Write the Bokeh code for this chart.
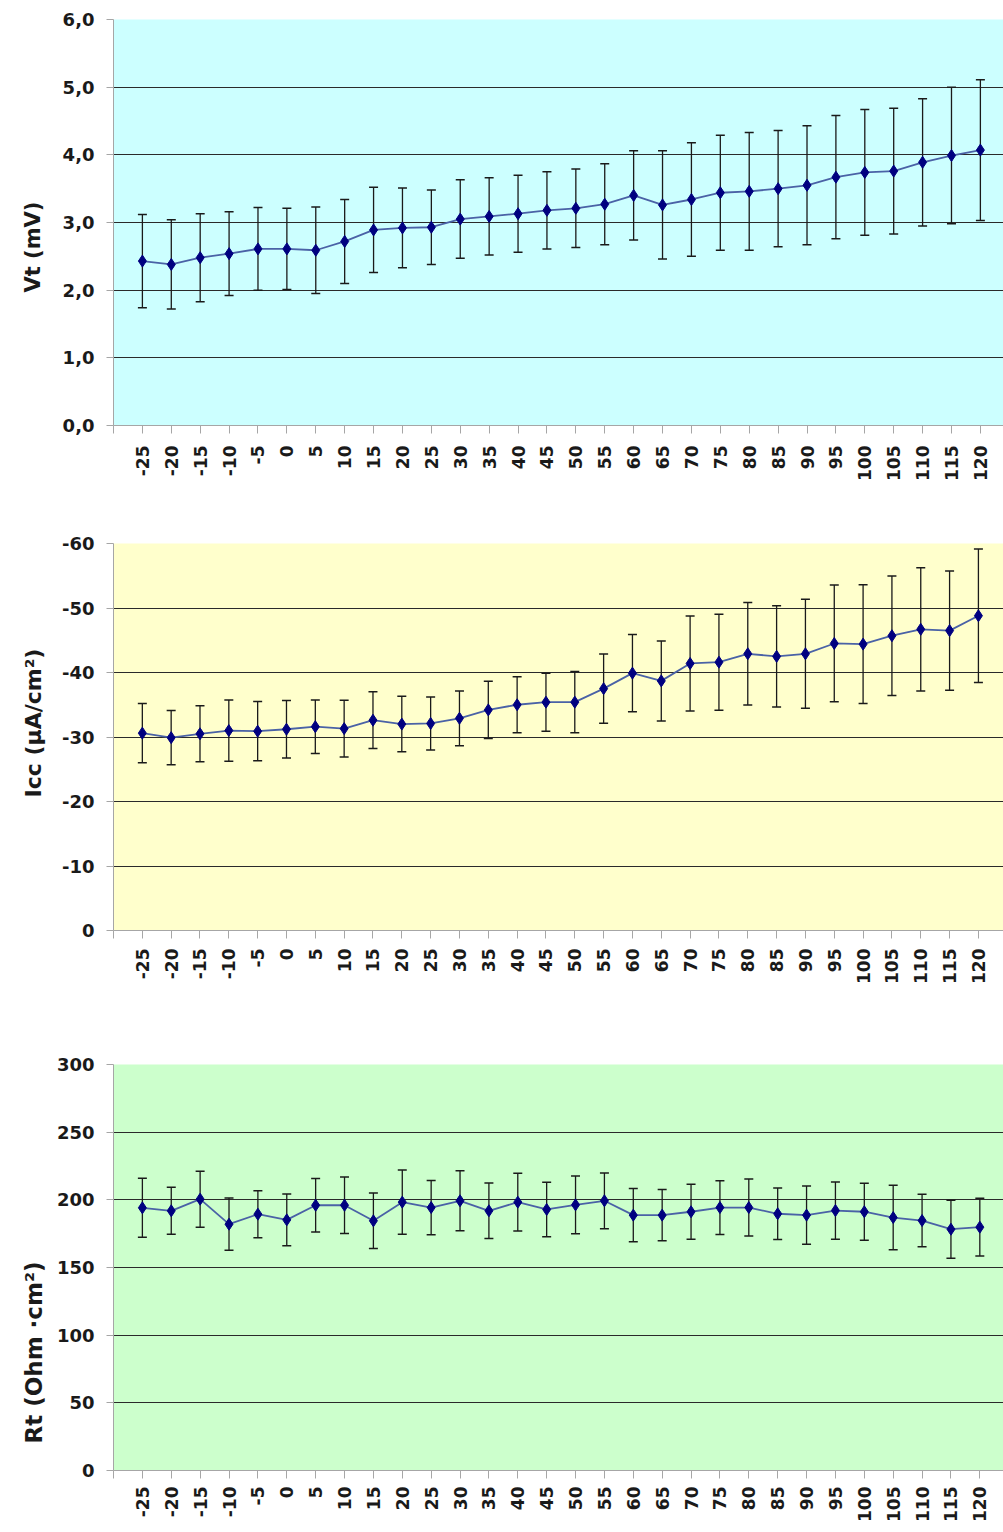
import math
from bokeh.plotting import figure
from bokeh.layouts import column
from bokeh.models import Range1d, FixedTicker, Title
from bokeh.embed import file_html
from bokeh.resources import INLINE

# ---------------- data ----------------
temps = [-25, -20, -15, -10, -5, 0, 5, 10, 15, 20, 25, 30, 35, 40, 45,
         50, 55, 60, 65, 70, 75, 80, 85, 90, 95, 100, 105, 110, 115, 120]

vt_mean = [2.43, 2.38, 2.48, 2.54, 2.61, 2.61, 2.59, 2.72, 2.89, 2.92, 2.93, 3.05, 3.09, 3.13, 3.18,
           3.21, 3.27, 3.40, 3.26, 3.34, 3.44, 3.46, 3.50, 3.55, 3.67, 3.74, 3.76, 3.89, 3.99, 4.07]
vt_err = [0.69, 0.66, 0.65, 0.62, 0.61, 0.60, 0.64, 0.62, 0.63, 0.59, 0.55, 0.58, 0.57, 0.57, 0.57,
          0.58, 0.60, 0.66, 0.80, 0.84, 0.85, 0.87, 0.86, 0.88, 0.91, 0.93, 0.93, 0.94, 1.01, 1.04]

icc_mean = [-30.6, -29.9, -30.5, -31.0, -30.9, -31.2, -31.6, -31.3, -32.6, -32.0, -32.1, -32.9, -34.2, -35.0, -35.4,
            -35.4, -37.5, -39.9, -38.7, -41.4, -41.6, -42.9, -42.5, -42.9, -44.5, -44.4, -45.7, -46.7, -46.5, -48.8]
icc_err = [4.6, 4.2, 4.35, 4.75, 4.6, 4.45, 4.15, 4.4, 4.4, 4.3, 4.1, 4.25, 4.45, 4.35, 4.5,
           4.75, 5.35, 6.0, 6.2, 7.35, 7.45, 7.95, 7.85, 8.45, 9.05, 9.2, 9.25, 9.55, 9.25, 10.35]

rt_mean = [194.1, 191.9, 200.5, 182.0, 189.4, 185.2, 196.0, 196.0, 184.5, 198.3, 194.3, 199.3, 191.9, 198.3, 192.9,
           196.3, 199.3, 188.7, 188.7, 191.2, 194.3, 194.3, 189.7, 188.7, 192.1, 191.2, 186.9, 184.7, 178.3, 179.8]
rt_err = [21.8, 17.35, 20.7, 19.3, 17.35, 19.1, 19.7, 20.95, 20.55, 23.75, 20.05, 22.2, 20.45, 21.35, 20.1,
          21.4, 20.6, 19.75, 18.95, 20.3, 19.85, 21.05, 19.0, 21.55, 21.15, 21.05, 23.85, 19.4, 21.4, 21.35]

vt_ticks = [0, 1, 2, 3, 4, 5, 6]
vt_tick_labels = ["0,0", "1,0", "2,0", "3,0", "4,0", "5,0", "6,0"]
icc_ticks = [0, -10, -20, -30, -40, -50, -60]
icc_tick_labels = ["0", "-10", "-20", "-30", "-40", "-50", "-60"]
rt_ticks = [0, 50, 100, 150, 200, 250, 300]
rt_tick_labels = ["0", "50", "100", "150", "200", "250", "300"]

TICK_FONT = "DejaVu Sans"
AXIS_GRAY = "#A6A6A6"


def make_panel(mean, err, y_start, y_end, yticks, ylabels, ytitle, bg,
               height, b_top, b_bottom, b_left, x_end, title_size, title_offset, title_standoff, x_standoff):
    idx = list(range(len(temps)))
    p = figure(width=1003, height=height,
               x_range=Range1d(-1, x_end), y_range=Range1d(y_start, y_end),
               output_backend="svg", toolbar_location=None,
               min_border_left=b_left, min_border_right=0,
               min_border_top=b_top, min_border_bottom=b_bottom)
    p.background_fill_color = bg
    p.border_fill_color = "white"
    p.outline_line_color = None

    p.xgrid.visible = False
    p.ygrid.ticker = FixedTicker(ticks=[t for t in yticks if t != 0])
    p.ygrid.grid_line_color = "#2a2a2a"
    p.ygrid.grid_line_width = 1.2

    # y axis
    p.yaxis.ticker = FixedTicker(ticks=yticks)
    p.yaxis.major_label_overrides = {t: l for t, l in zip(yticks, ylabels)}
    p.yaxis.axis_line_color = AXIS_GRAY
    p.yaxis.major_tick_line_color = AXIS_GRAY
    p.yaxis.major_tick_out = 7
    p.yaxis.major_tick_in = 0
    p.yaxis.minor_tick_line_color = None
    p.yaxis.major_label_text_font = TICK_FONT
    p.yaxis.major_label_text_font_style = "bold"
    p.yaxis.major_label_text_font_size = "18px"
    p.yaxis.major_label_text_color = "#1a1a1a"
    p.yaxis.major_label_standoff = 12

    # y axis title as a side title (allows an offset along the axis)
    p.add_layout(Title(text=ytitle, align="left", offset=title_offset, standoff=title_standoff,
                       text_font=TICK_FONT, text_font_style="bold",
                       text_font_size=title_size, text_color="#1a1a1a"), "left")

    # x axis
    xt = list(range(-1, len(temps)))
    overrides = {-1: ""}
    for i, t in enumerate(temps):
        overrides[i] = str(t)
    p.xaxis.ticker = FixedTicker(ticks=xt)
    p.xaxis.major_label_overrides = overrides
    p.xaxis.major_label_orientation = math.pi / 2
    p.xaxis.axis_line_color = AXIS_GRAY
    p.xaxis.major_tick_line_color = AXIS_GRAY
    p.xaxis.major_tick_out = 8
    p.xaxis.major_tick_in = 0
    p.xaxis.minor_tick_line_color = None
    p.xaxis.major_label_text_font = TICK_FONT
    p.xaxis.major_label_text_font_style = "bold"
    p.xaxis.major_label_text_font_size = "17px"
    p.xaxis.major_label_text_color = "#1a1a1a"
    p.xaxis.major_label_standoff = x_standoff

    upper = [m + e for m, e in zip(mean, err)]
    lower = [m - e for m, e in zip(mean, err)]
    p.segment(x0=idx, y0=lower, x1=idx, y1=upper, line_color="#1a1a1a", line_width=1.3)
    p.scatter(x=idx, y=upper, marker="dash", size=9, line_color="#1a1a1a", line_width=1.5)
    p.scatter(x=idx, y=lower, marker="dash", size=9, line_color="#1a1a1a", line_width=1.5)
    p.line(x=idx, y=mean, line_color="#4A62A6", line_width=1.8)
    p.scatter(x=idx, y=mean, marker="diamond", size=12, fill_color="#000080", line_color="#000080")
    return p


p1 = make_panel(vt_mean, vt_err, 0, 6, vt_ticks, vt_tick_labels, "Vt (mV)", "#CCFFFF",
                508, 19, 83, 110, 29.8, "21px", 133, 29, 12)
p2 = make_panel(icc_mean, icc_err, 0, -60, icc_ticks, icc_tick_labels, "Icc (µA/cm²)", "#FFFFCC",
                512, 35, 90, 113, 29.87, "22px", 133, 26, 10)
p3 = make_panel(rt_mean, rt_err, 0, 300, rt_ticks, rt_tick_labels, "Rt (Ohm ·cm²)", "#CCFFCC",
                512, 44, 62, 108, 29.82, "23px", 27, 14, 8)

layout = column(p1, p2, p3, spacing=0)
open("out.html", "w").write(file_html(layout, INLINE))
